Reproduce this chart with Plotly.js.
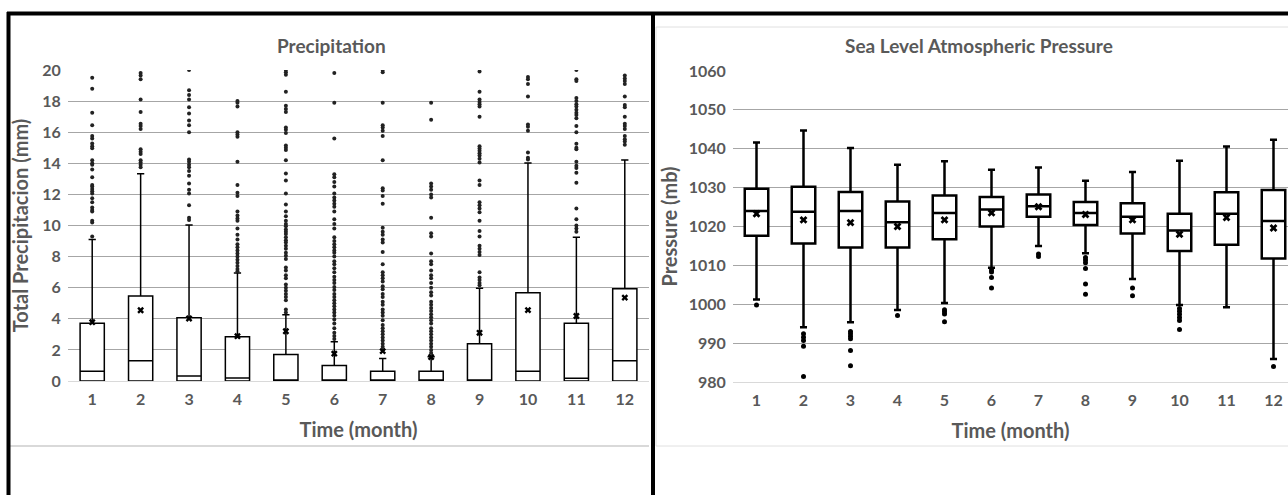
<!DOCTYPE html>
<html>
<head>
<meta charset="utf-8">
<script src="https://cdn.plot.ly/plotly-3.0.1.min.js"></script>
<style>html,body{margin:0;padding:0;background:#fff;}#chart{width:1288px;height:495px;}</style>
</head>
<body>
<div id="chart"></div>
<script>
// ---------- Data ----------
var months = [1,2,3,4,5,6,7,8,9,10,11,12];
var monthLabels = ["1","2","3","4","5","6","7","8","9","10","11","12"];

// Precipitation (mm)
var precipLower  = [0,0,0,0,0,0,0,0,0,0,0,0];
var precipQ1     = [0,0,0,0,0,0,0,0,0,0,0,0];
var precipMedian = [0.62,1.31,0.32,0.19,0,0,0,0,0,0.63,0.17,1.3];
var precipQ3     = [3.71,5.47,4.07,2.84,1.71,1.0,0.62,0.62,2.4,5.67,3.71,5.94];
var precipUpper  = [9.1,13.33,10.03,6.95,4.26,2.53,1.44,1.56,5.97,14.02,9.25,14.22];
var precipMean   = [3.78,4.55,4.02,2.88,3.2,1.76,1.92,1.54,3.1,4.56,4.18,5.36];
var precipOut1  = [19.5,18.8,17.25,16.45,15.75,15.6,15.27,15.1,14.97,14.2,14.0,13.9,13.6,13.1,12.6,12.5,12.35,12.2,12.05,11.75,11.5,11.15,11.0,10.9,10.3,10.2,9.3];
var precipOut2  = [19.8,19.65,19.4,18.1,17.3,16.55,16.4,16.2,14.9,14.75,14.6,14.2,14.05,13.9,13.75];
var precipOut3  = [20.0,18.7,18.4,18.1,17.6,17.2,16.75,16.45,16.0,14.25,14.1,13.9,13.75,13.5,13.2,12.7,12.3,12.05,11.3,10.5,10.35];
var precipOut4  = [18.0,17.9,17.65,16.0,15.85,15.7,14.1,12.6,12.1,11.9,10.9,10.65,10.45,10.3,9.8,9.4,9.1,8.8,8.6,8.4,8.2,8.0,7.8,7.6,7.4,7.2,7.05];
var precipOut5  = [20.0,19.85,19.7,18.6,17.7,17.5,17.3,16.3,16.15,15.95,15.15,15.0,14.85,14.2,13.35,12.9,12.05,11.35,10.9,10.6,10.3,10.1,9.95,9.75,9.6,9.45,9.25,9.05,8.9,8.7,8.5,8.25,8.05,7.85,7.3,7.1,6.8,6.6,6.2,6.0,5.8,5.6,5.4,5.2,4.6,4.4];
var precipOut6  = [19.8,17.9,15.6,13.3,13.1,12.8,12.5,12.05,11.8,11.6,11.4,11.2,10.9,10.4,10.1,9.8,9.25,9.0,8.8,8.6,8.4,8.25,8.0,7.7,7.5,7.25,7.0,6.7,6.5,6.3,6.05,5.85,5.6,5.4,5.2,5.0,4.8,4.6,4.4,4.2,3.95,3.7,3.4,3.1,2.9,2.7];
var precipOut7  = [20.0,19.85,17.9,16.45,16.3,16.1,15.75,14.2,12.4,12.25,11.9,11.4,9.85,9.6,9.4,9.1,8.9,8.3,7.5,7.0,6.8,6.6,6.4,6.1,5.9,5.6,5.4,5.1,4.9,4.6,4.4,4.2,3.9,3.6,3.4,3.2,3.0,2.8,2.6,2.4,2.2,2.0];
var precipOut8  = [17.9,16.8,12.7,12.5,12.3,12.0,11.8,10.5,9.5,9.3,8.2,7.7,7.5,7.1,6.8,6.6,6.3,6.0,5.7,5.5,5.1,4.9,4.7,4.5,4.3,4.1,3.9,3.7,3.4,3.2,3.0,2.8,2.6,2.4,2.2,2.0,1.8];
var precipOut9  = [19.9,18.6,18.1,17.95,17.8,17.65,17.0,15.1,14.95,14.8,14.65,14.5,14.3,14.05,12.9,12.6,11.5,11.3,11.1,10.85,10.3,9.65,9.3,8.7,8.5,8.3,8.1,7.0,6.65,6.5,6.3,6.15];
var precipOut10 = [19.55,19.4,19.1,18.3,16.5,16.35,16.1,14.7,14.35,14.25];
var precipOut11 = [20.0,19.4,19.3,18.2,18.0,17.8,17.65,17.45,17.25,17.1,16.9,16.4,16.0,15.25,15.0,14.9,14.1,13.85,13.7,13.4,12.75,11.1,10.4,10.0,9.8,9.6];
var precipOut12 = [19.65,19.45,19.3,19.1,18.3,17.75,17.6,17.0,16.55,16.4,16.2,15.75,15.55,15.4,15.2];
var precipOutliers = [precipOut1,precipOut2,precipOut3,precipOut4,precipOut5,precipOut6,precipOut7,precipOut8,precipOut9,precipOut10,precipOut11,precipOut12];

// Sea level pressure (mb)
var presLower  = [1001.2,994.1,995.4,998.5,1000.3,1009.4,1015.0,1013.1,1006.5,999.8,999.2,985.9];
var presQ1     = [1017.6,1015.6,1014.6,1014.6,1016.7,1020.0,1022.5,1020.4,1018.2,1013.7,1015.3,1011.8];
var presMedian = [1024.0,1023.8,1024.0,1021.1,1023.5,1024.4,1025.2,1023.5,1022.5,1019.0,1023.3,1021.4];
var presQ3     = [1029.7,1030.2,1028.9,1026.4,1028.0,1027.6,1028.2,1026.3,1026.0,1023.3,1028.8,1029.4];
var presUpper  = [1041.6,1044.7,1040.2,1035.9,1036.8,1034.6,1035.2,1031.8,1034.0,1036.9,1040.6,1042.3];
var presMean   = [1023.3,1021.7,1021.0,1020.0,1021.7,1023.5,1025.1,1023.1,1021.7,1018.0,1022.3,1019.6];
var presOutliers = [
  [999.8],
  [992.4,991.5,990.7,989.2,981.4],
  [993.0,992.4,991.8,991.1,988.1,984.2],
  [997.1],
  [998.6,998.1,997.5,995.5],
  [1008.8,1008.3,1006.9,1004.2],
  [1012.9,1012.3],
  [1012.0,1011.4,1010.7,1009.2,1005.2,1002.6],
  [1004.2,1002.2],
  [998.9,998.2,997.4,996.6,995.8,993.5],
  [],
  [984.0]
];

// ---------- Helpers ----------
function flattenX(lists){var xs=[];lists.forEach(function(l,i){l.forEach(function(){xs.push(months[i]);});});return xs;}
function flattenY(lists){var ys=[];lists.forEach(function(l){l.forEach(function(v){ys.push(v);});});return ys;}

var W = 1288, H = 495;
function px(x){return x/W;}
function py(y){return 1 - y/H;}

var FAM = 'Lato, "Open Sans", sans-serif';
var tickFont = {family:FAM, size:16, color:'#595959', weight:700};
var axisTitleFont = {family:FAM, size:20, color:'#595959', weight:700};
var chartTitleFont = {family:FAM, size:19, color:'#595959', weight:700};
var hiddenTick = 'rgba(0,0,0,0)';

var traces = [
  {type:'box', x:months, q1:precipQ1, median:precipMedian, q3:precipQ3, lowerfence:precipLower, upperfence:precipUpper,
   width:0.5, whiskerwidth:0.3, boxpoints:false, fillcolor:'#ffffff', line:{color:'#000000', width:1.5},
   orientation:'v', xaxis:'x', yaxis:'y', hoverinfo:'skip'},
  {type:'scatter', mode:'markers', x:flattenX(precipOutliers), y:flattenY(precipOutliers),
   marker:{size:4, color:'#222222'}, xaxis:'x', yaxis:'y', hoverinfo:'skip'},
  {type:'scatter', mode:'markers', x:months, y:precipMean,
   marker:{symbol:'x', size:6, color:'#000000'}, xaxis:'x', yaxis:'y', hoverinfo:'skip'},

  {type:'box', x:months, q1:presQ1, median:presMedian, q3:presQ3, lowerfence:presLower, upperfence:presUpper,
   width:0.5, whiskerwidth:0.3, boxpoints:false, fillcolor:'#ffffff', line:{color:'#000000', width:2.5},
   orientation:'v', xaxis:'x2', yaxis:'y2', hoverinfo:'skip'},
  {type:'scatter', mode:'markers', x:flattenX(presOutliers), y:flattenY(presOutliers),
   marker:{size:5, color:'#000000'}, xaxis:'x2', yaxis:'y2', hoverinfo:'skip'},
  {type:'scatter', mode:'markers', x:months, y:presMean,
   marker:{symbol:'x', size:7, color:'#000000'}, xaxis:'x2', yaxis:'y2', hoverinfo:'skip'}
];

var layout = {
  width:W, height:H, margin:{l:0,r:0,t:0,b:0},
  paper_bgcolor:'#ffffff', plot_bgcolor:'#ffffff', showlegend:false,
  xaxis:{domain:[px(68), px(649)], range:[0.5,12.5], tickvals:months, ticktext:monthLabels,
         showgrid:false, zeroline:false, showline:true, linecolor:'#d9d9d9', linewidth:1,
         ticks:'outside', ticklen:4, tickcolor:hiddenTick,
         tickfont:tickFont, anchor:'y', fixedrange:true,
         title:{text:'Time (month)', font:axisTitleFont, standoff:15}},
  yaxis:{domain:[py(381), py(70)], range:[0,20], dtick:2, showgrid:true, gridcolor:'#a6a6a6', gridwidth:1,
         zeroline:false, showline:false, ticks:'outside', ticklen:3, tickcolor:hiddenTick,
         tickfont:tickFont, anchor:'x', fixedrange:true,
         title:{text:'Total Precipitacion (mm)', font:axisTitleFont, standoff:8}},
  xaxis2:{domain:[px(733), 1], range:[0.5, 0.5 + 555/47], tickvals:months, ticktext:monthLabels,
         showgrid:false, zeroline:false, showline:true, linecolor:'#d9d9d9', linewidth:1,
         ticks:'outside', ticklen:4, tickcolor:hiddenTick,
         tickfont:tickFont, anchor:'y2', fixedrange:true,
         title:{text:'Time (month)', font:axisTitleFont, standoff:15}},
  yaxis2:{domain:[py(382), py(71)], range:[980,1060], dtick:10, showgrid:true, gridcolor:'#a6a6a6', gridwidth:1,
         zeroline:false, showline:false, ticks:'outside', ticklen:3, tickcolor:hiddenTick,
         tickfont:tickFont, anchor:'x2', fixedrange:true,
         title:{text:'Pressure (mb)', font:axisTitleFont, standoff:5}},
  annotations:[
    {text:'Precipitation', xref:'paper', yref:'paper', x:px(331), y:py(45), xanchor:'center', yanchor:'middle',
     showarrow:false, font:chartTitleFont},
    {text:'Sea Level Atmospheric Pressure', xref:'paper', yref:'paper', x:px(979), y:py(45), xanchor:'center', yanchor:'middle',
     showarrow:false, font:chartTitleFont}
  ],
  shapes:[
    {type:'line', xref:'paper', yref:'paper', x0:px(10), x1:px(649), y0:py(446), y1:py(446), line:{color:'#d9d9d9', width:2}},
    {type:'rect', xref:'paper', yref:'paper', x0:px(656), x1:px(1300), y0:py(446), y1:py(27), line:{color:'#e0e0e0', width:1}},
    {type:'line', xref:'paper', yref:'paper', x0:px(7), x1:px(1290), y0:py(13.5), y1:py(13.5), line:{color:'#000000', width:4}},
    {type:'line', xref:'paper', yref:'paper', x0:px(8.5), x1:px(8.5), y0:py(12), y1:py(500), line:{color:'#000000', width:4}},
    {type:'line', xref:'paper', yref:'paper', x0:px(653), x1:px(653), y0:py(12), y1:py(500), line:{color:'#000000', width:4}}
  ]
};

Plotly.newPlot('chart', traces, layout, {staticPlot:true, displayModeBar:false});
</script>
</body>
</html>
